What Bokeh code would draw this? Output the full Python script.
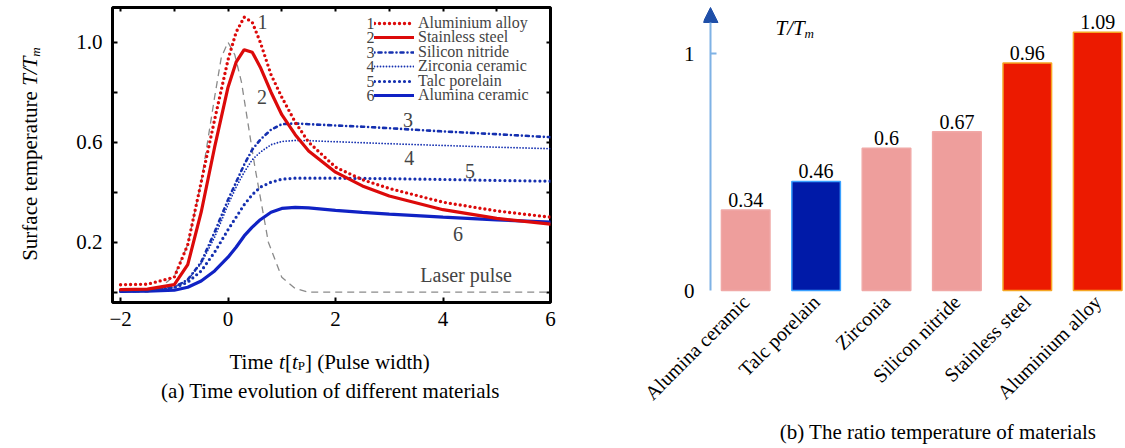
import math
from bokeh.plotting import figure
from bokeh.layouts import row, column
from bokeh.models import (Label, Legend, LegendItem, FixedTicker, LinearAxis,
                          Arrow, NormalHead, Range1d, PrintfTickFormatter)
from bokeh.core.properties import value
from bokeh.embed import file_html
from bokeh.resources import INLINE

SERIF = "Liberation Serif"

# ---------------- data: (a) time evolution ----------------
time_t = [-2.0, -1.5, -1.0, -0.75, -0.5, -0.25, 0.0, 0.15, 0.3, 0.45, 0.6, 0.8,
          1.0, 1.25, 1.5, 2.0, 2.5, 3.0, 4.0, 5.0, 6.0]
aluminium_alloy = [0.030, 0.032, 0.060, 0.19, 0.44, 0.69, 0.93, 1.04, 1.10, 1.08, 1.00, 0.87,
                   0.78, 0.68, 0.60, 0.50, 0.45, 0.415, 0.36, 0.325, 0.300]
stainless_steel = [0.010, 0.012, 0.030, 0.11, 0.32, 0.58, 0.82, 0.92, 0.97, 0.96, 0.90, 0.80,
                   0.71, 0.63, 0.565, 0.48, 0.425, 0.385, 0.33, 0.295, 0.272]
silicon_nitride = [0.005, 0.008, 0.020, 0.05, 0.12, 0.24, 0.37, 0.44, 0.51, 0.57, 0.61, 0.65,
                   0.672, 0.675, 0.672, 0.667, 0.662, 0.656, 0.643, 0.632, 0.620]
zirconia_ceramic = [0.005, 0.008, 0.020, 0.05, 0.115, 0.22, 0.35, 0.42, 0.48, 0.53, 0.56, 0.59,
                    0.603, 0.607, 0.606, 0.602, 0.598, 0.594, 0.587, 0.580, 0.574]
talc_porelain = [0.005, 0.008, 0.018, 0.04, 0.085, 0.16, 0.25, 0.30, 0.35, 0.39, 0.42, 0.44,
                 0.452, 0.456, 0.456, 0.456, 0.455, 0.454, 0.451, 0.447, 0.444]
alumina_ceramic = [0.003, 0.004, 0.008, 0.02, 0.045, 0.085, 0.14, 0.18, 0.225, 0.26, 0.29, 0.32,
                   0.335, 0.339, 0.337, 0.327, 0.319, 0.312, 0.300, 0.289, 0.280]
pulse_t = [-2.0, -1.5, -1.25, -1.0, -0.75, -0.5, -0.25, -0.125, 0.0, 0.125, 0.25, 0.5,
           0.75, 1.0, 1.25, 1.5, 2.0, 6.0]
laser_pulse = [0.0, 0.0, 0.02, 0.065, 0.19, 0.44, 0.78, 0.94, 1.0, 0.95, 0.84, 0.50,
               0.20, 0.06, 0.015, 0.0, 0.0, 0.0]

series_names = ["Aluminium alloy", "Stainless steel", "Silicon nitride",
                "Zirconia ceramic", "Talc porelain", "Alumina ceramic"]
series_values = [aluminium_alloy, stainless_steel, silicon_nitride,
                 zirconia_ceramic, talc_porelain, alumina_ceramic]
series_numbers = ["1", "2", "3", "4", "5", "6"]

x_ticks_a = [-2, 0, 2, 4, 6]
y_ticks_a = [0.2, 0.6, 1.0]

# ---------------- data: (b) ratio temperature ----------------
materials = ["Alumina ceramic", "Talc porelain", "Zirconia", "Silicon nitride",
             "Stainless steel", "Aluminium alloy"]
ratios = [0.34, 0.46, 0.6, 0.67, 0.96, 1.09]

# ---------------- styles ----------------
RED = "#dc0a0a"
BLUE_D = "#1530b0"
BLUE_S = "#1022c4"
styles = [  # color, dash, width
    (RED, "0 5", 3.4),
    (RED, "solid", 3.2),
    (BLUE_D, "0 4 3 4", 2.6),
    (BLUE_D, "0 3", 1.8),
    (BLUE_D, "0 5", 3.2),
    (BLUE_S, "solid", 3.2),
]
FS = "21px"


def blank_fig(w, h):
    f = figure(width=w, height=h, x_range=Range1d(0, w), y_range=Range1d(0, h),
               min_border=0, x_axis_type=None, y_axis_type=None,
               output_backend="svg", toolbar_location=None)
    f.grid.visible = False
    f.outline_line_color = None
    return f


def lab(fig, x, y, text, size=FS, style="normal", align="left", angle=0.0, baseline="alphabetic"):
    fig.add_layout(Label(x=x, y=y, text=text, text_align=align, text_baseline=baseline,
                         text_font=SERIF, text_font_size=size, text_font_style=style,
                         angle=angle, text_color="black"))


# ================= left plot =================
XS, XE = -2.15, 6.0
TOP1, FH1, BOT1 = 7, 295, 40
p1 = figure(frame_width=438, frame_height=FH1, min_border_left=68, min_border_right=82,
            min_border_top=TOP1, min_border_bottom=BOT1,
            x_range=Range1d(XS, XE), y_range=Range1d(-0.0412, 1.1388),
            output_backend="svg", toolbar_location=None)
p1.grid.visible = False
p1.outline_line_color = "black"
p1.outline_line_width = 3

xa = p1.xaxis[0]
xa.ticker = FixedTicker(ticks=x_ticks_a)
xa.major_label_overrides = {-2: "\u22122"}
ya = p1.yaxis[0]
ya.ticker = FixedTicker(ticks=y_ticks_a, minor_ticks=[0.0, 0.4, 0.8])
ya.formatter = PrintfTickFormatter(format="%.1f")
for ax in (xa, ya):
    ax.axis_line_color = None
    ax.major_tick_in = 5
    ax.major_tick_out = 0
    ax.major_tick_line_width = 2
    ax.minor_tick_in = 5
    ax.minor_tick_out = 0
    ax.minor_tick_line_width = 2
    ax.major_label_text_font = SERIF
    ax.major_label_text_font_size = FS
    ax.major_label_text_color = "black"
xa.major_label_standoff = 9
ya.major_label_standoff = 10

top_ax = LinearAxis(ticker=FixedTicker(ticks=[], minor_ticks=[-2, -1, 0, 1, 2, 3, 4, 5, 6]),
                    axis_line_color=None, minor_tick_in=4, minor_tick_out=0,
                    minor_tick_line_width=2, major_label_standoff=0)
right_ax = LinearAxis(ticker=FixedTicker(ticks=[], minor_ticks=[0.0, 0.2, 0.4, 0.6, 0.8, 1.0]),
                      axis_line_color=None, minor_tick_in=4, minor_tick_out=0,
                      minor_tick_line_width=2, major_label_standoff=0)
p1.add_layout(top_ax, "above")
p1.add_layout(right_ax, "right")

p1.line(pulse_t, laser_pulse, line_color="#8a8a8a", line_width=1.3, line_dash="7 5")

renderers = {}
for i in [5, 4, 3, 2, 1, 0]:
    color, dash, width = styles[i]
    renderers[i] = p1.line(time_t, series_values[i], line_color=color, line_width=width,
                           line_dash=dash, line_cap="round")

# one legend per row so that rows can be packed tightly
ROW = 14.5
for i in range(6):
    lg = Legend(items=[LegendItem(label=series_names[i], renderers=[renderers[i]])],
                location=(262, 270.3 - ROW * i), orientation="vertical",
                label_text_font=SERIF, label_text_font_size="16px",
                glyph_width=40, glyph_height=14, label_height=14, spacing=0,
                padding=0, margin=0, label_standoff=4,
                border_line_color=None, background_fill_alpha=0)
    p1.add_layout(lg)


def X1(px):
    return XS + (px - 112) / (438 / (XE - XS))


def Y1(py):
    return (291.7 - py) / 250.0


for i, num in enumerate(series_numbers):
    p1.add_layout(Label(x=X1(370), y=Y1(22.7 + ROW * i), text=num, text_align="center",
                        text_baseline="middle", text_font=SERIF, text_font_size="16px"))

curve_label_pos = [(0.64, 1.08), (0.63, 0.78), (3.35, 0.69), (3.37, 0.535), (4.5, 0.486), (4.28, 0.232)]
for num, (lx, ly) in zip(series_numbers, curve_label_pos):
    p1.add_layout(Label(x=lx, y=ly, text=num, text_align="center", text_baseline="middle",
                        text_font=SERIF, text_font_size="20px"))
p1.add_layout(Label(x=4.43, y=0.067, text="Laser pulse", text_align="center",
                    text_baseline="middle", text_font=SERIF, text_font_size="20px"))

# ---- y-axis title strip (left of p1): rotated pieces joined at fixed junctions ----
H1 = TOP1 + FH1 + BOT1
ylab = blank_fig(44, H1)
ROT = math.pi / 2
J1 = 97   # end of "Surface temperature" (page y)
J2 = 57   # end of "T/T", start of subscript
lab(ylab, 29, H1 - J1, "Surface temperature", angle=ROT, align="right")
lab(ylab, 29, H1 - J2, "T/T", style="italic", angle=ROT, align="right")
lab(ylab, 35, H1 - J2, "m", size="13px", style="italic", angle=ROT, align="left")

# ---- x-axis title + caption strip (below) ----
HB = 448 - H1
bot = blank_fig(632, HB)
pieces = [("Time ", 229, FS, "normal", 0), ("t", 278.6, FS, "italic", 0), ("[", 284.4, FS, "normal", 0),
          ("t", 291.4, FS, "italic", 0), ("P", 297.2, "13px", "normal", 4),
          ("] (Pulse width)", 304.4, FS, "normal", 0)]
for txt, px, fs, st, dy in pieces:
    lab(bot, px, 448 - (361 + dy), txt, size=fs, style=st)
lab(bot, 330, 448 - 390, "(a) Time evolution of different materials", align="center")

# ================= right plot =================
SX = 70.4
X2S = -0.5 - 7 / SX
X2E = X2S + 422 / SX
FH2, BOT2 = 292, 125
p2 = figure(frame_width=422, frame_height=FH2, min_border_left=71, min_border_right=0,
            min_border_top=0, min_border_bottom=BOT2,
            x_range=Range1d(X2S, X2E), y_range=Range1d(-2 / 237, 290 / 237),
            output_backend="svg", toolbar_location=None)
p2.grid.visible = False
p2.outline_line_color = None

positions = list(range(len(materials)))
fills = ["#ee9e9c", "#001aa8", "#ee9e9c", "#ee9e9c", "#ec1a00", "#ec1a00"]
lines = ["#f0a8a6", "#3aa0ff", "#f0a8a6", "#f0a8a6", "#f5a623", "#f5a623"]
p2.vbar(x=positions, top=ratios, width=0.69, bottom=0, fill_color=fills, line_color=lines,
        line_width=1.5)
p2.text(x=positions, y=ratios, text=[f"{v:g}" for v in ratios], text_align="center",
        text_baseline="bottom", y_offset=-3, text_font=value(SERIF), text_font_size="20px",
        text_color="black")

xb2 = p2.xaxis[0]
xb2.ticker = FixedTicker(ticks=positions)
xb2.major_label_overrides = {i: m for i, m in zip(positions, materials)}
xb2.major_label_orientation = math.pi / 4
xb2.axis_line_color = None
xb2.major_tick_line_color = None
xb2.major_tick_in = 0
xb2.major_tick_out = 0
xb2.minor_tick_line_color = None
xb2.major_label_text_font = SERIF
xb2.major_label_text_font_size = "20px"
xb2.major_label_text_color = "black"
xb2.major_label_standoff = 6

yb2 = p2.yaxis[0]
yb2.ticker = FixedTicker(ticks=[0, 1])
yb2.axis_line_color = None
yb2.major_tick_line_color = None
yb2.major_tick_in = 0
yb2.major_tick_out = 0
yb2.minor_tick_line_color = None
yb2.major_label_text_font = SERIF
yb2.major_label_text_font_size = FS
yb2.major_label_text_color = "black"
yb2.major_label_standoff = 9

AX_BLUE = "#7fb2e5"
p2.add_layout(Arrow(end=NormalHead(size=15, fill_color="#1f4fa8", line_color="#1f4fa8"),
                    x_start=-0.5, y_start=0, x_end=-0.5, y_end=(290 - 7) / 237,
                    line_color=AX_BLUE, line_width=2))
p2.add_layout(Arrow(end=None, x_start=-0.5, y_start=1, x_end=-0.5 + 6 / SX, y_end=1,
                    line_color=AX_BLUE, line_width=2))


def X2(px):
    return X2S + (px - 703) / SX


def Y2(py):
    return (290 - py) / 237.0


lab(p2, X2(775), Y2(27), "T/T", style="italic")
lab(p2, X2(804), Y2(33), "m", size="13px", style="italic")

HC = 448 - (FH2 + BOT2)
cap2 = blank_fig(493, HC)
lab(cap2, 906 - 632, 17, "(b) The ratio temperature of materials", align="center")

left = column(row(ylab, p1, spacing=0), bot, spacing=0)
right = column(p2, cap2, spacing=0)
layout = row(left, right, spacing=0)
open("out.html", "w").write(file_html(layout, INLINE))
